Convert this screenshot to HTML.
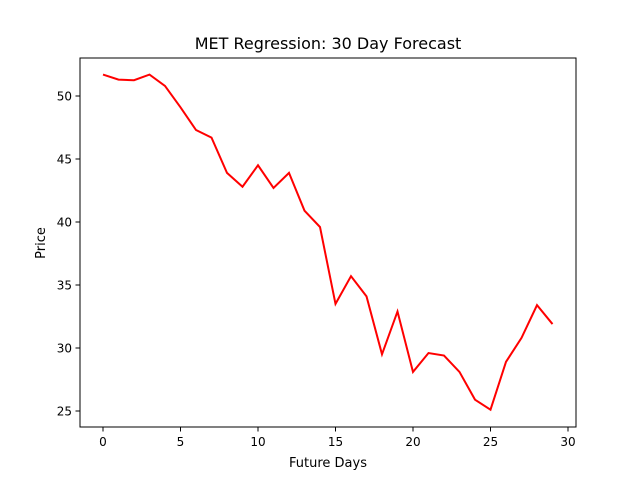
<!DOCTYPE html>
<html><head><meta charset="utf-8"><style>
body{margin:0;background:#fff}
svg text{font-family:"DejaVu Sans","Liberation Sans",sans-serif;fill:#000}
</style></head><body>
<svg id="chart" width="640" height="480" xmlns="http://www.w3.org/2000/svg">
<rect width="640" height="480" fill="#fff"/>
<text x="328" y="49" font-size="16" text-anchor="middle">MET Regression: 30 Day Forecast</text>
<g id="plot"></g>
<rect x="80" y="58" width="496" height="369" fill="none" stroke="#000" stroke-width="1"/>
<text x="328" y="467" font-size="13" text-anchor="middle">Future Days</text>
<text transform="translate(45,243) rotate(-90)" font-size="13" text-anchor="middle">Price</text>
</svg>
<script>
const days = [0,1,2,3,4,5,6,7,8,9,10,11,12,13,14,15,16,17,18,19,20,21,22,23,24,25,26,27,28,29];
const prices = [51.7,51.3,51.25,51.7,50.8,49.1,47.3,46.7,43.9,42.8,44.5,42.7,43.9,40.9,39.6,33.5,35.7,34.1,29.5,32.9,28.1,29.6,29.4,28.1,25.9,25.1,28.9,30.8,33.4,31.9];
const xTicks = [0,5,10,15,20,25,30];
const yTicks = [25,30,35,40,45,50];
const NS="http://www.w3.org/2000/svg";
const x = v => 103 + (v-0)*(568-103)/30;
const y = v => 411 - (v-25)*(411-96)/25;
const g = document.getElementById('plot');
function mk(t,a){const e=document.createElementNS(NS,t);for(const k in a)e.setAttribute(k,a[k]);g.appendChild(e);return e;}
xTicks.forEach(t=>{
  const l=mk('line',{x1:x(t),x2:x(t),y1:427,y2:431.5,stroke:'#000'});
  
  
  const tx=mk('text',{x:x(t),y:446,'font-size':'12','text-anchor':'middle'});tx.textContent=t;
  
  
});
yTicks.forEach(t=>{
  const l=mk('line',{x1:75.5,x2:80,y1:y(t),y2:y(t),stroke:'#000'});
  
  
  const tx=mk('text',{x:72,y:y(t)+4.5,'font-size':'12','text-anchor':'end'});tx.textContent=t;
  
  
});
const p=mk('polyline',{points:days.map((d,i)=>x(d)+','+y(prices[i])).join(' '),fill:'none',stroke:'#ff0000','stroke-width':'2'});


</script>
</body></html>
